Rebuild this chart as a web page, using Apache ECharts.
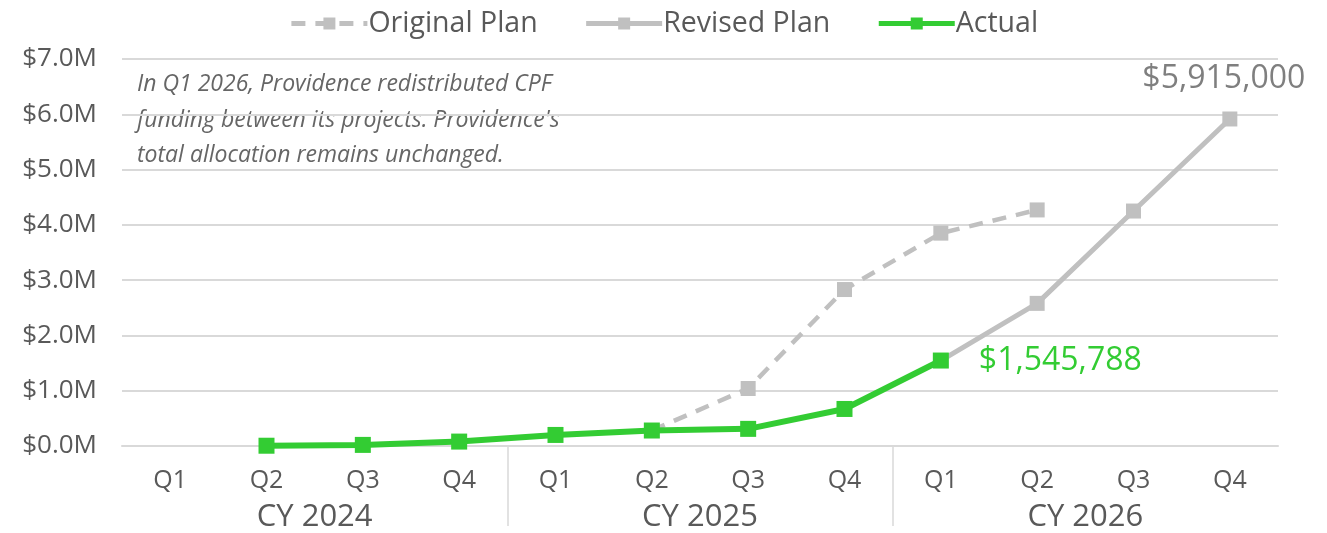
<!DOCTYPE html>
<html>
<head>
<meta charset="utf-8">
<script src="https://cdn.jsdelivr.net/npm/echarts@6/dist/echarts.min.js"></script>
<style>
  html, body { margin: 0; padding: 0; background: #ffffff; }
  #chart { width: 1327px; height: 533px; }
</style>
</head>
<body>
<div id="chart"></div>
<script>
const quarters = ['Q1','Q2','Q3','Q4','Q1','Q2','Q3','Q4','Q1','Q2','Q3','Q4'];
const years = ['CY 2024','CY 2025','CY 2026'];
const yTicks = [0, 1000000, 2000000, 3000000, 4000000, 5000000, 6000000, 7000000];
const originalPlan = [null, null, null, null, null, 280000, 1040000, 2830000, 3850000, 4270000, null, null];
const revisedPlan  = [null, null, null, null, null, null, null, null, 1545788, 2580000, 4250000, 5915000];
const actual       = [null, 5000, 20000, 80000, 200000, 280000, 310000, 670000, 1545788, null, null, null];
const noteLines = [
  'In Q1 2026, Providence redistributed CPF',
  "funding between its projects. Providence's",
  'total allocation remains unchanged.'
];

const FONT = '"Open Sans", "Liberation Sans", sans-serif';
const TEXT = '#595959';
const GREY = '#c0c0c0';
const GREEN = '#33cc33';
const GRID = '#d9d9d9';

function money(v) {
  return '$' + String(Math.round(v)).replace(/\B(?=(\d{3})+(?!\d))/g, ',');
}
function lastIndex(arr) {
  for (let i = arr.length - 1; i >= 0; i--) if (arr[i] != null) return i;
  return -1;
}
const revisedLast = lastIndex(revisedPlan);
const actualLast = lastIndex(actual);

const chart = echarts.init(document.getElementById('chart'), null, { renderer: 'canvas' });

const option = {
  backgroundColor: '#ffffff',
  textStyle: { fontFamily: FONT },
  animation: false,
  legend: {
    top: 4,
    left: 'center',
    itemWidth: 76,
    itemHeight: 15,
    itemGap: 46,
    lineStyle: { width: 5 },
    textStyle: { fontFamily: FONT, fontSize: 28.5, color: TEXT, padding: [0, 0, 0, -4] },
    data: ['Original Plan', 'Revised Plan', 'Actual']
  },
  grid: [
    { left: 122, right: 49, top: 59, height: 387, containLabel: false, outerBoundsMode: 'none' },
    { left: 122, right: 49, top: 446, height: 80, containLabel: false, outerBoundsMode: 'none' }
  ],
  xAxis: [
    {
      type: 'category', gridIndex: 0, data: quarters, boundaryGap: true,
      axisLine: { show: true, lineStyle: { color: GRID, width: 2 } },
      axisTick: { show: false },
      axisLabel: { interval: 0, margin: 22, fontFamily: FONT, fontSize: 25, color: TEXT },
      splitLine: { show: false }
    },
    {
      type: 'category', gridIndex: 0, data: years, position: 'bottom', boundaryGap: true,
      axisLine: { show: false }, axisTick: { show: false },
      axisLabel: { interval: 0, margin: 56, fontFamily: FONT, fontSize: 31, color: TEXT },
      splitLine: { show: false }
    },
    {
      type: 'category', gridIndex: 1, data: years, boundaryGap: true,
      axisLine: { show: false }, axisTick: { show: false }, axisLabel: { show: false },
      splitLine: { show: true, interval: 0, showMinLine: false, showMaxLine: false,
                   lineStyle: { color: GRID, width: 1.5 } }
    }
  ],
  yAxis: [
    {
      type: 'value', gridIndex: 0, min: yTicks[0], max: yTicks[yTicks.length - 1],
      interval: yTicks[1] - yTicks[0],
      axisLine: { show: false }, axisTick: { show: false },
      axisLabel: {
        margin: 25, fontFamily: FONT, fontSize: 26, color: TEXT,
        formatter: v => '$' + (v / 1000000).toFixed(1) + 'M'
      },
      splitLine: { show: true, lineStyle: { color: GRID, width: 2 } }
    },
    {
      type: 'value', gridIndex: 1, show: false, min: 0, max: 1
    }
  ],
  graphic: [
    {
      type: 'text', left: 137, top: 67, silent: true,
      style: {
        text: noteLines.join('\n'),
        font: 'italic 23px ' + FONT,
        fill: '#666666',
        lineHeight: 35.5
      }
    }
  ],
  series: [
    {
      name: 'Original Plan', type: 'line', xAxisIndex: 0, yAxisIndex: 0,
      data: originalPlan, connectNulls: false, z: 2,
      symbol: 'rect', symbolSize: 15,
      lineStyle: { color: GREY, width: 4.5, type: [14, 10] },
      itemStyle: { color: GREY }
    },
    {
      name: 'Revised Plan', type: 'line', xAxisIndex: 0, yAxisIndex: 0,
      data: revisedPlan.map((v, i) => i === revisedLast ? {
        value: v,
        label: {
          show: true, position: 'top', distance: 17, offset: [-6, 0],
          formatter: p => money(p.value), fontFamily: FONT, fontSize: 32, color: '#7f7f7f'
        }
      } : v),
      z: 3,
      symbol: 'rect', symbolSize: 15,
      lineStyle: { color: GREY, width: 5 },
      itemStyle: { color: GREY }
    },
    {
      name: 'Actual', type: 'line', xAxisIndex: 0, yAxisIndex: 0,
      data: actual.map((v, i) => i === actualLast ? {
        value: v,
        label: {
          show: true, position: 'right', distance: 30,
          formatter: p => money(p.value), fontFamily: FONT, fontSize: 32, color: GREEN
        }
      } : v),
      z: 4,
      symbol: 'rect', symbolSize: 16,
      lineStyle: { color: GREEN, width: 6 },
      itemStyle: { color: GREEN }
    }
  ]
};

chart.setOption(option);
</script>
</body>
</html>
